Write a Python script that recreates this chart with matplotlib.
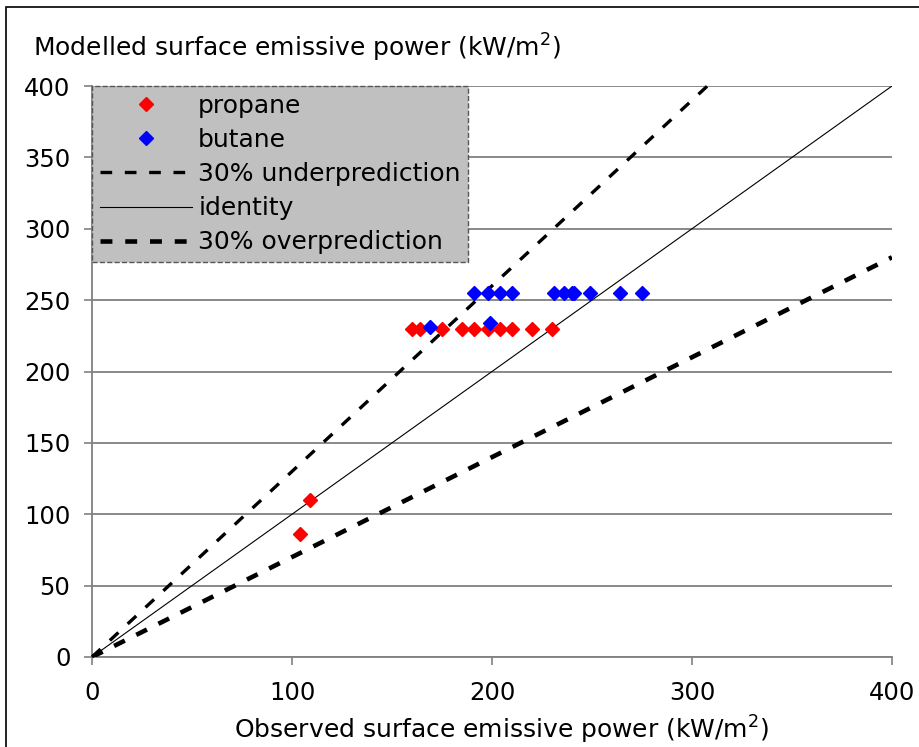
import numpy as np
import matplotlib.pyplot as plt
from matplotlib.patches import Rectangle

# Data
propane_x = [104, 109, 160, 164, 175, 185, 191, 198, 204, 210, 220, 230]
propane_y = [86, 110, 230, 230, 230, 230, 230, 230, 230, 230, 230, 230]
butane_x = [169, 199, 191, 198, 204, 210, 231, 236, 240, 241, 249, 264, 275]
butane_y = [231, 234, 255, 255, 255, 255, 255, 255, 255, 255, 255, 255, 255]

under_x = [0, 310]
under_y = [0, 403]
ident_x = [0, 400]
ident_y = [0, 400]
over_x = [0, 400]
over_y = [0, 280]

xticks = [0, 100, 200, 300, 400]
yticks = [0, 50, 100, 150, 200, 250, 300, 350, 400]

fig = plt.figure(figsize=(9.19, 7.47), dpi=100)
ax = fig.add_axes([92/919, 1 - 657/747, 800/919, 571/747])

# frame round the whole chart (only left/top visible)
fig.patches.append(Rectangle((6/919, -0.1), 1.2, 1 - 7/747 + 0.1,
                             transform=fig.transFigure, fill=False,
                             edgecolor='black', lw=1.2))

ax.plot(propane_x, propane_y, 'D', color='red', ms=7, label='propane', zorder=4)
ax.plot(butane_x, butane_y, 'D', color='blue', ms=7, label='butane', zorder=4)
ax.plot(under_x, under_y, color='black', lw=2.4, dashes=(3.5, 3.8),
        label='30% underprediction', clip_on=False, zorder=3)
ax.plot(ident_x, ident_y, color='black', lw=0.8, label='identity', zorder=3)
ax.plot(over_x, over_y, color='black', lw=3.3, dashes=(2.6, 2.8),
        label='30% overprediction', zorder=3)

ax.set_xlim(0, 400)
ax.set_ylim(0, 400)
ax.set_xticks(xticks)
ax.set_yticks(yticks)
ax.tick_params(labelsize=17.5, length=5.5, pad=10, color='#808080', width=1.2)
ax.tick_params(axis='x', pad=12)
ax.yaxis.grid(True, color='#808080', lw=1.3)
ax.set_axisbelow(True)
for s in ['top', 'right']:
    ax.spines[s].set_visible(False)
for s in ['left', 'bottom']:
    ax.spines[s].set_color('#808080')
    ax.spines[s].set_linewidth(1.3)

fig.text(33/919, 1 - 48/747, 'Modelled surface emissive power (kW/m$^2$)',
         fontsize=18, va='center', ha='left')
fig.text(502/919, 1 - 730/747, 'Observed surface emissive power (kW/m$^2$)',
         fontsize=18, va='center', ha='center')

leg = ax.legend(loc='upper left', bbox_to_anchor=(0, 1), borderaxespad=0,
                fontsize=18, fancybox=False, framealpha=1,
                facecolor='#c0c0c0', edgecolor='#555555',
                handlelength=3.7, labelspacing=0.41, handletextpad=0.25,
                borderpad=0.3)
leg.get_frame().set_linestyle('--')
leg.set_zorder(5)

fig.savefig('out.png', dpi=100)
